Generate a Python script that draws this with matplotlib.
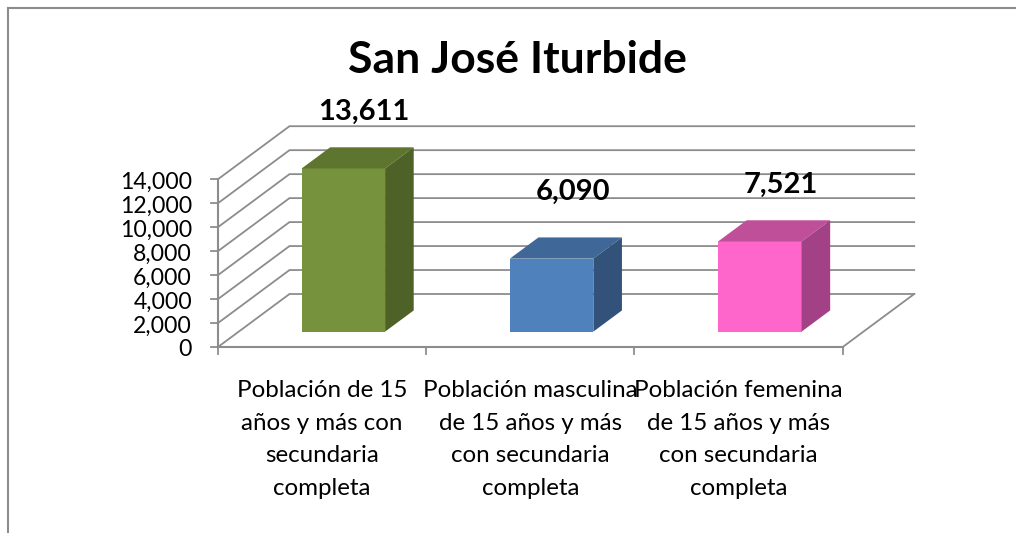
import matplotlib
matplotlib.use('Agg')
import matplotlib.pyplot as plt
from matplotlib.patches import Polygon

categories = ['Población de 15\naños y más con\nsecundaria\ncompleta',
              'Población masculina\nde 15 años y más\ncon secundaria\ncompleta',
              'Población femenina\nde 15 años y más\ncon secundaria\ncompleta']
values = [13611, 6090, 7521]
labels = ['13,611', '6,090', '7,521']
yticks = [0, 2000, 4000, 6000, 8000, 10000, 12000, 14000]

front_colors = ['#76923c', '#4f81bd', '#ff66cc']
top_colors = ['#5e752f', '#3f6797', '#c04f9a']
side_colors = ['#4e6126', '#32527a', '#a34187']
GRID = '#8c8c8c'

plt.rcParams['font.family'] = ['Lato', 'DejaVu Sans']

W, H = 1016, 533
fig = plt.figure(figsize=(W / 100, H / 100), dpi=100)
ax = fig.add_axes([0, 0, 1, 1])
ax.axis('off')

# axes span the whole figure, limits set so x=0..3 lands on the floor front edge
cat_px = (842.7 - 218) / 3
val_px = (347 - 179.2) / 14000
ax.set_xlim(-218 / cat_px, (W - 218) / cat_px)
ax.set_ylim(-(H - 347) / val_px, 347 / val_px)

# oblique depth of the floor, in data units
dx = 71.5 / cat_px
dy = 53 / val_px

# page frame, open on the right
ax.plot([(8 - 218) / cat_px] * 2, [-(H - 347) / val_px, (347 - 8) / val_px], color=GRID, lw=1.5)
ax.plot([(8 - 218) / cat_px, (W - 218) / cat_px], [(347 - 8) / val_px] * 2, color=GRID, lw=1.5)

# walls and floor
for v in yticks:
    ax.plot([0, dx, 3 + dx], [v, v + dy, v + dy], color=GRID, lw=1.3, solid_joinstyle='miter')
    ax.plot([-7 / cat_px, 0], [v, v], color=GRID, lw=1.3)
    ax.text(-26 / cat_px, v - 3 / val_px, f'{v:,}', ha='right', va='center', fontsize=16.6, color='black')
ax.plot([3, 3 + dx], [0, dy], color=GRID, lw=1.3)
ax.plot([0, 0], [0, 14000], color=GRID, lw=1.5)
ax.plot([0, 3], [0, 0], color=GRID, lw=1.5)
for i in range(4):
    ax.plot([i, i], [0, -7 / val_px], color=GRID, lw=1.3)

# bars, drawn as front / top / side faces
bar_w = 83.5 / cat_px
off = 0.29
depth = 0.4
label_gap = [35, 46, 35]
for i, v in enumerate(values):
    x0 = i + 0.5 - bar_w / 2 + off * dx + 0.5 / cat_px
    x1 = x0 + bar_w
    y0 = off * dy
    y1 = y0 + v
    ddx, ddy = depth * dx, depth * dy
    ax.add_patch(Polygon([(x0, y0), (x1, y0), (x1, y1), (x0, y1)], fc=front_colors[i], ec='none', zorder=3))
    ax.add_patch(Polygon([(x0, y1), (x1, y1), (x1 + ddx, y1 + ddy), (x0 + ddx, y1 + ddy)], fc=top_colors[i], ec='none', zorder=3))
    ax.add_patch(Polygon([(x1, y0), (x1 + ddx, y0 + ddy), (x1 + ddx, y1 + ddy), (x1, y1)], fc=side_colors[i], ec='none', zorder=3))
    ax.text(i + 0.5 + 0.59 * dx, y1 + ddy + label_gap[i] / val_px, labels[i], ha='center', va='center',
            fontsize=21, fontweight='bold', color='black', zorder=4)

for i, c in enumerate(categories):
    ax.text(i + 0.5, -33 / val_px, c, ha='center', va='top', fontsize=17.4,
            linespacing=1.68, color='black')

ax.text((517 - 218) / cat_px, (347 - 60) / val_px, 'San José Iturbide', ha='center', va='center',
        fontsize=32, fontweight='bold', color='black')

fig.savefig('out.png', dpi=100)
